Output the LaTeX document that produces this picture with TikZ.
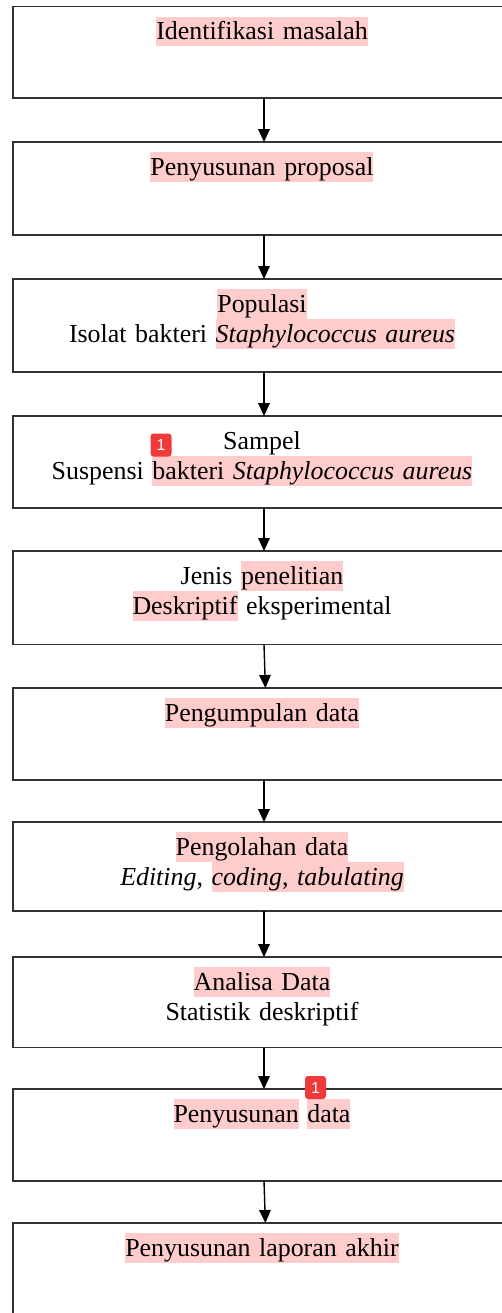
\documentclass[tikz,border=0pt]{standalone}
\usepackage{fontspec}
\setmainfont{Liberation Serif}
\setsansfont{Liberation Sans}
\usetikzlibrary{arrows.meta}
\definecolor{hlpink}{RGB}{255,204,204}
\definecolor{boxline}{RGB}{50,50,50}
\definecolor{notered}{RGB}{240,58,58}
\newcommand{\hlt}[1]{{\setlength{\fboxsep}{0pt}\colorbox{hlpink}{\rule[-3.3pt]{0pt}{14.6pt}#1}}}

\begin{document}
\begin{tikzpicture}[x=0.5pt, y=-0.5pt,
  stepbox/.style={draw=boxline, line width=0.85pt, minimum width=251pt, minimum height=46pt, inner sep=0pt, outer sep=0pt},
  steptext/.style={anchor=base, text width=245pt, align=center, inner sep=0pt, font=\fontsize{12.95pt}{15pt}\selectfont},
  flow/.style={line width=0.7pt, -{Triangle[length=6.5pt, width=5.8pt]}},
  badge/.style={fill=notered, rounded corners=1.5pt, text=white, minimum width=10.5pt, minimum height=11.5pt, inner sep=0pt, font=\sffamily\fontsize{8pt}{8pt}\selectfont}]
  \useasboundingbox (0,0) rectangle (502,1313);
  \clip (0,0) rectangle (502,1313);
  \fill[white] (0,0) rectangle (502,1313);

  \node[stepbox, minimum height=45.75pt] (identifikasi) at (264,52.25) {};
  \node[stepbox, minimum height=46.5pt] (proposal) at (264,188.5) {};
  \node[stepbox, minimum height=46.5pt] (populasi) at (264,325.5) {};
  \node[stepbox] (sampel) at (264,462) {};
  \node[stepbox, minimum height=46.75pt] (jenis) at (264,597.75) {};
  \node[stepbox] (kumpul) at (264,734) {};
  \node[stepbox, minimum height=44.5pt] (olah) at (264,866.5) {};
  \node[stepbox, minimum height=45.25pt] (analisa) at (264,1002.25) {};
  \node[stepbox] (susundata) at (264,1135) {};
  \node[stepbox] (laporan) at (264,1269) {};

  \node[steptext] (identifikasi-t) at (262,39.5) {\hlt{Identifikasi masalah}};
  \node[steptext] (proposal-t) at (262,175) {\hlt{Penyusunan proposal}};
  \node[steptext] (populasi-t) at (262,312) {\hlt{Populasi}\\ Isolat bakteri \hlt{\textit{Staphylococcus aureus}}};
  \node[steptext] (sampel-t) at (262,449) {Sampel\\ Suspensi \hlt{bakteri \textit{Staphylococcus aureus}}};
  \node[steptext] (jenis-t) at (262,584) {Jenis \hlt{penelitian}\\ \hlt{Deskriptif} eksperimental};
  \node[steptext] (kumpul-t) at (262,721) {\hlt{Pengumpulan data}};
  \node[steptext] (olah-t) at (262,855) {\hlt{Pengolahan data}\\ \textit{Editing}, \hlt{\textit{coding}, \textit{tabulating}}};
  \node[steptext] (analisa-t) at (262,990) {\hlt{Analisa Data}\\ Statistik deskriptif};
  \node[steptext] (susundata-t) at (262,1122) {\hlt{Penyusunan} \hlt{data}};
  \node[steptext] (laporan-t) at (262,1256) {\hlt{Penyusunan laporan akhir}};

  \draw[flow] (identifikasi) -- (proposal);
  \draw[flow] (proposal) -- (populasi);
  \draw[flow] (populasi) -- (sampel);
  \draw[flow] (sampel) -- (jenis);
  \draw[flow] (jenis.south) -- ([xshift=0.7pt]kumpul.north);
  \draw[flow] (kumpul) -- (olah);
  \draw[flow] (olah) -- (analisa);
  \draw[flow] (analisa) -- (susundata);
  \draw[flow] (susundata.south) -- ([xshift=0.7pt]laporan.north);

  \node[badge] (note1) at (161,445) {1};
  \node[badge] (note2) at (315.5,1087.5) {1};
\end{tikzpicture}
\end{document}
